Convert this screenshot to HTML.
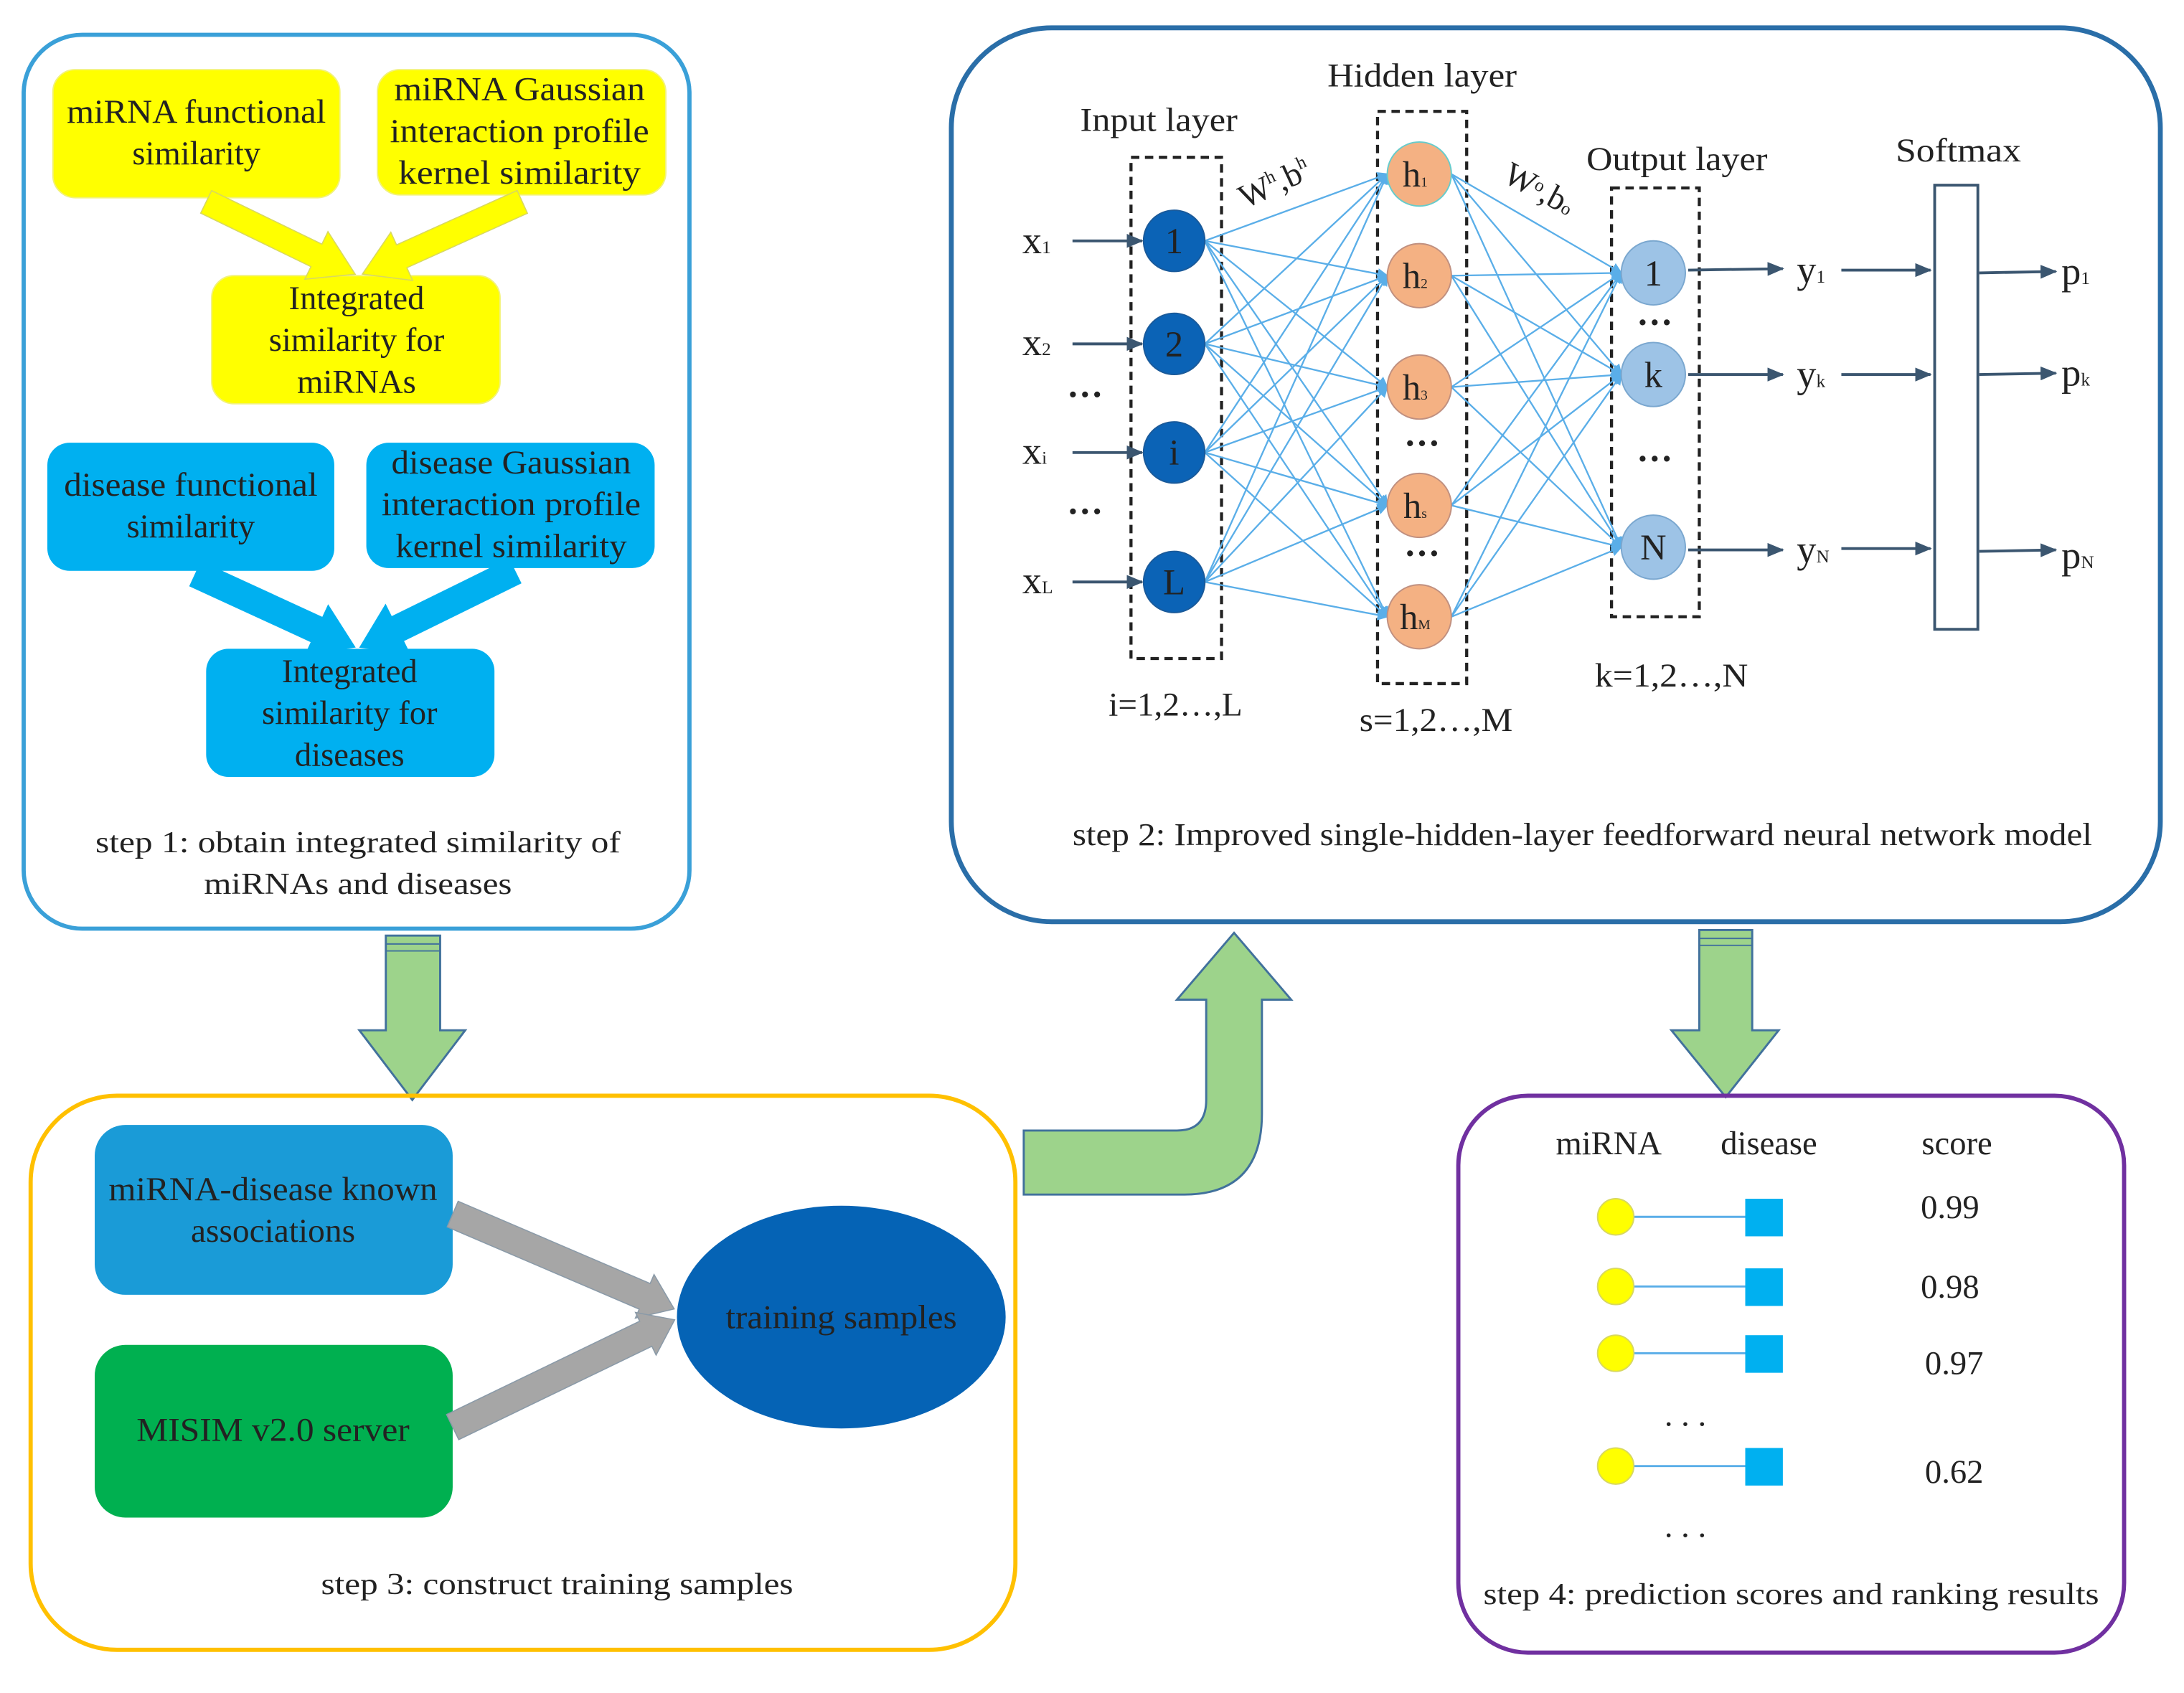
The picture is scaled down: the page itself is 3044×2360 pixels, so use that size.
<!DOCTYPE html>
<html><head><meta charset="utf-8"><style>html,body{margin:0;padding:0;background:#fff}svg{display:block}</style></head>
<body>
<svg width="3044" height="2360" viewBox="0 0 1568 1216" preserveAspectRatio="none" xmlns="http://www.w3.org/2000/svg" font-family="Liberation Serif, serif">
<defs>
<marker id="ab" markerWidth="8" markerHeight="8" refX="7" refY="4" orient="auto" markerUnits="userSpaceOnUse"><path d="M0,0 L8,4 L0,8 z" fill="#5aaee8"/></marker>
<marker id="ad" markerWidth="12" markerHeight="10" refX="11" refY="5" orient="auto" markerUnits="userSpaceOnUse"><path d="M0,0 L12,5 L0,10 z" fill="#3b5670"/></marker>
</defs>
<rect width="1568" height="1216" fill="#fff"/>

<!-- Box 1 -->
<rect x="17" y="25" width="478" height="642" rx="42" fill="#fff" stroke="#3aa0d8" stroke-width="3"/>
<g font-size="24" text-anchor="middle" fill="#222">
<rect x="38" y="50" width="206" height="92" rx="16" fill="#ffff00" stroke="#f2f27a"/>
<text x="141" y="88" textLength="186" lengthAdjust="spacingAndGlyphs">miRNA functional</text><text x="141" y="118">similarity</text>
<rect x="271" y="50" width="207" height="90" rx="16" fill="#ffff00" stroke="#f2f27a"/>
<text x="373" y="72" textLength="180" lengthAdjust="spacingAndGlyphs">miRNA Gaussian</text><text x="373" y="102" textLength="186" lengthAdjust="spacingAndGlyphs">interaction profile</text><text x="373" y="132" textLength="174" lengthAdjust="spacingAndGlyphs">kernel similarity</text>
<rect x="152" y="198" width="207" height="92" rx="16" fill="#ffff00" stroke="#f2f27a"/>
<text x="256" y="222">Integrated</text><text x="256" y="252">similarity for</text><text x="256" y="282">miRNAs</text>
<g fill="#ffff00" stroke="#d8d860" stroke-width="0.8">
<polygon transform="translate(148,145) rotate(25.9)" points="0,-9 88,-9 88,-19 119,0 88,19 88,9 0,9"/>
<polygon transform="translate(375,145) rotate(155.7)" points="0,-9 95,-9 95,-19 126,0 95,19 95,9 0,9"/>
</g>
<rect x="34" y="318" width="206" height="92" rx="16" fill="#00b0f0"/>
<text x="137" y="356" textLength="182" lengthAdjust="spacingAndGlyphs">disease functional</text><text x="137" y="386">similarity</text>
<rect x="263" y="318" width="207" height="90" rx="16" fill="#00b0f0"/>
<text x="367" y="340" textLength="172" lengthAdjust="spacingAndGlyphs">disease Gaussian</text><text x="367" y="370" textLength="186" lengthAdjust="spacingAndGlyphs">interaction profile</text><text x="367" y="400" textLength="166" lengthAdjust="spacingAndGlyphs">kernel similarity</text>
<g fill="#00b0f0">
<polygon transform="translate(140,412) rotate(24.7)" points="0,-10 96,-10 96,-20 127,0 96,20 96,10 0,10"/>
<polygon transform="translate(370,410) rotate(153.8)" points="0,-10 94,-10 94,-20 125,0 94,20 94,10 0,10"/>
</g>
<rect x="148" y="466" width="207" height="92" rx="16" fill="#00b0f0"/>
<text x="251" y="490">Integrated</text><text x="251" y="520">similarity for</text><text x="251" y="550">diseases</text>
<text x="257" y="612" font-size="22" textLength="377" lengthAdjust="spacingAndGlyphs">step 1: obtain integrated similarity of</text>
<text x="257" y="642" font-size="22" textLength="221" lengthAdjust="spacingAndGlyphs">miRNAs and diseases</text>
</g>

<!-- Box 2 -->
<rect x="683" y="20" width="868" height="642" rx="72" fill="#fff" stroke="#2a6ea8" stroke-width="3.5"/>
<g fill="none" stroke="#222" stroke-width="2.2" stroke-dasharray="6,4">
<rect x="812" y="113" width="65" height="360"/>
<rect x="989" y="80" width="64" height="411"/>
<rect x="1157" y="135" width="63" height="308"/>
</g>
<g stroke="#5aaee8" stroke-width="1.2" marker-end="url(#ab)">
<line x1="865" y1="173" x2="996" y2="125"/><line x1="865" y1="173" x2="996" y2="198"/><line x1="865" y1="173" x2="996" y2="278"/><line x1="865" y1="173" x2="996" y2="363"/><line x1="865" y1="173" x2="996" y2="443"/>
<line x1="865" y1="247" x2="996" y2="125"/><line x1="865" y1="247" x2="996" y2="198"/><line x1="865" y1="247" x2="996" y2="278"/><line x1="865" y1="247" x2="996" y2="363"/><line x1="865" y1="247" x2="996" y2="443"/>
<line x1="865" y1="325" x2="996" y2="125"/><line x1="865" y1="325" x2="996" y2="198"/><line x1="865" y1="325" x2="996" y2="278"/><line x1="865" y1="325" x2="996" y2="363"/><line x1="865" y1="325" x2="996" y2="443"/>
<line x1="865" y1="418" x2="996" y2="125"/><line x1="865" y1="418" x2="996" y2="198"/><line x1="865" y1="418" x2="996" y2="278"/><line x1="865" y1="418" x2="996" y2="363"/><line x1="865" y1="418" x2="996" y2="443"/>
<line x1="1042" y1="125" x2="1164" y2="196"/><line x1="1042" y1="125" x2="1164" y2="269"/><line x1="1042" y1="125" x2="1164" y2="393"/>
<line x1="1042" y1="198" x2="1164" y2="196"/><line x1="1042" y1="198" x2="1164" y2="269"/><line x1="1042" y1="198" x2="1164" y2="393"/>
<line x1="1042" y1="278" x2="1164" y2="196"/><line x1="1042" y1="278" x2="1164" y2="269"/><line x1="1042" y1="278" x2="1164" y2="393"/>
<line x1="1042" y1="363" x2="1164" y2="196"/><line x1="1042" y1="363" x2="1164" y2="269"/><line x1="1042" y1="363" x2="1164" y2="393"/>
<line x1="1042" y1="443" x2="1164" y2="196"/><line x1="1042" y1="443" x2="1164" y2="269"/><line x1="1042" y1="443" x2="1164" y2="393"/>
</g>
<g stroke="#3b5670" stroke-width="2" marker-end="url(#ad)">
<line x1="770" y1="173" x2="820" y2="173"/><line x1="770" y1="247" x2="820" y2="247"/><line x1="770" y1="325" x2="820" y2="325"/><line x1="770" y1="418" x2="820" y2="418"/>
<line x1="1212" y1="194" x2="1280" y2="193"/><line x1="1212" y1="269" x2="1280" y2="269"/><line x1="1212" y1="395" x2="1280" y2="395"/>
<line x1="1322" y1="194" x2="1386" y2="194"/><line x1="1322" y1="269" x2="1386" y2="269"/><line x1="1322" y1="394" x2="1386" y2="394"/>
<line x1="1421" y1="196" x2="1476" y2="195"/><line x1="1421" y1="269" x2="1476" y2="268"/><line x1="1421" y1="396" x2="1476" y2="395"/>
</g>
<rect x="1389" y="133" width="31" height="319" fill="#fff" stroke="#3b5670" stroke-width="2"/>
<g fill="#0b63b6" stroke="#1a5a9a">
<circle cx="843" cy="173" r="22"/><circle cx="843" cy="247" r="22"/><circle cx="843" cy="325" r="22"/><circle cx="843" cy="418" r="22"/>
</g>
<g fill="#f4b183" stroke="#c09080">
<circle cx="1019" cy="125" r="23" stroke="#6cc"/><circle cx="1019" cy="198" r="23"/><circle cx="1019" cy="278" r="23"/><circle cx="1019" cy="363" r="23"/><circle cx="1019" cy="443" r="23"/>
</g>
<g fill="#9dc3e6" stroke="#7aa7cf">
<circle cx="1187" cy="196" r="23"/><circle cx="1187" cy="269" r="23"/><circle cx="1187" cy="393" r="23"/>
</g>
<g font-size="26" fill="#222" text-anchor="middle">
<text x="843" y="182">1</text><text x="843" y="256">2</text><text x="843" y="334">i</text><text x="843" y="427">L</text>
<text x="1016" y="134">h<tspan font-size="10">1</tspan></text><text x="1016" y="207">h<tspan font-size="10">2</tspan></text><text x="1016" y="287">h<tspan font-size="10">3</tspan></text><text x="1016" y="372">h<tspan font-size="10">s</tspan></text><text x="1016" y="452">h<tspan font-size="10">M</tspan></text>
<text x="1187" y="205">1</text><text x="1187" y="278">k</text><text x="1187" y="402">N</text>
</g>
<g font-size="24" fill="#222">
<text x="832" y="94" text-anchor="middle" textLength="113" lengthAdjust="spacingAndGlyphs">Input layer</text>
<text x="1021" y="62" text-anchor="middle" textLength="136" lengthAdjust="spacingAndGlyphs">Hidden layer</text>
<text x="1204" y="122" text-anchor="middle" textLength="130" lengthAdjust="spacingAndGlyphs">Output layer</text>
<text x="1406" y="116" text-anchor="middle" textLength="90" lengthAdjust="spacingAndGlyphs">Softmax</text>
<text x="734" y="182" font-size="28">x<tspan font-size="13">1</tspan></text>
<text x="734" y="255" font-size="28">x<tspan font-size="13">2</tspan></text>
<text x="734" y="333" font-size="28">x<tspan font-size="13">i</tspan></text>
<text x="734" y="426" font-size="28">x<tspan font-size="13">L</tspan></text>
<text x="1290" y="203" font-size="28">y<tspan font-size="13">1</tspan></text>
<text x="1290" y="278" font-size="28">y<tspan font-size="13">k</tspan></text>
<text x="1290" y="404" font-size="28">y<tspan font-size="13">N</tspan></text>
<text x="1480" y="204" font-size="28">p<tspan font-size="13">1</tspan></text>
<text x="1480" y="277" font-size="28">p<tspan font-size="13">k</tspan></text>
<text x="1480" y="408" font-size="28">p<tspan font-size="13">N</tspan></text>
<text x="844" y="514" text-anchor="middle" textLength="96" lengthAdjust="spacingAndGlyphs">i=1,2…,L</text>
<text x="1031" y="525" text-anchor="middle" textLength="110" lengthAdjust="spacingAndGlyphs">s=1,2…,M</text>
<text x="1200" y="493" text-anchor="middle" textLength="110" lengthAdjust="spacingAndGlyphs">k=1,2…,N</text>
<text x="894" y="150" transform="rotate(-25 894 150)">W<tspan font-size="13" dy="-9">h</tspan><tspan dy="9">,b</tspan><tspan font-size="13" dy="-9">h</tspan></text>
<text x="1078" y="130" transform="rotate(28 1078 130)">W<tspan font-size="13" dy="-6">o</tspan><tspan dy="6">,b</tspan><tspan font-size="13">o</tspan></text>
<text x="1136" y="607" text-anchor="middle" font-size="23" textLength="732" lengthAdjust="spacingAndGlyphs">step 2: Improved single-hidden-layer feedforward neural network model</text>
</g>
<g font-size="26" font-weight="bold" fill="#222" text-anchor="middle">
<text x="779" y="292">···</text><text x="779" y="376">···</text>
<text x="1021" y="327">···</text><text x="1021" y="406">···</text>
<text x="1188" y="240">···</text><text x="1188" y="338">···</text>
</g>

<!-- green arrows -->
<g fill="#9dd38b" stroke="#41719c" stroke-width="1.5">
<polygon points="277,672 316,672 316,740 334,740 296,790 258,740 277,740"/>
<polygon points="1220,668 1258,668 1258,740 1277,740 1239,788 1200,740 1220,740"/>
<path d="M735,858 L850,858 Q906,858 906,800 L906,718 L927,718 L886,670 L845,718 L866,718 L866,790 Q866,812 845,812 L735,812 Z"/>
</g>
<g stroke="#41719c" stroke-width="1"><line x1="277" y1="678" x2="316" y2="678"/><line x1="277" y1="683" x2="316" y2="683"/><line x1="1220" y1="674" x2="1258" y2="674"/><line x1="1220" y1="679" x2="1258" y2="679"/></g>

<!-- Box 3 -->
<rect x="22" y="787" width="707" height="398" rx="62" fill="none" stroke="#ffc000" stroke-width="3"/>
<rect x="68" y="808" width="257" height="122" rx="22" fill="#1a9bd7"/>
<rect x="68" y="966" width="257" height="124" rx="22" fill="#00b050"/>
<ellipse cx="604" cy="946" rx="118" ry="80" fill="#0563b5"/>
<g fill="#a6a6a6" stroke="#8a9aa8" stroke-width="0.8">
<polygon transform="translate(325,872) rotate(23.2)" points="0,-10 150,-10 150,-17 173,0 150,17 150,10 0,10"/>
<polygon transform="translate(325,1025) rotate(-25.8)" points="0,-10 154,-10 154,-17 177,0 154,17 154,10 0,10"/>
</g>
<g font-size="24" fill="#222" text-anchor="middle">
<text x="196" y="862" textLength="236" lengthAdjust="spacingAndGlyphs">miRNA-disease known</text><text x="196" y="892" textLength="118" lengthAdjust="spacingAndGlyphs">associations</text>
<text x="196" y="1035" textLength="196" lengthAdjust="spacingAndGlyphs">MISIM v2.0 server</text>
<text x="604" y="954" textLength="166" lengthAdjust="spacingAndGlyphs">training samples</text>
<text x="400" y="1145" font-size="22" textLength="339" lengthAdjust="spacingAndGlyphs">step 3: construct training samples</text>
</g>

<!-- Box 4 -->
<rect x="1047" y="787" width="478" height="400" rx="50" fill="none" stroke="#7030a0" stroke-width="3"/>
<g stroke="#5aaee8" stroke-width="1.5"><line x1="1160" y1="874" x2="1256" y2="874"/><line x1="1160" y1="924" x2="1256" y2="924"/><line x1="1160" y1="972" x2="1256" y2="972"/><line x1="1160" y1="1053" x2="1256" y2="1053"/></g>
<g fill="#ffff00" stroke="#d8d860"><circle cx="1160" cy="874" r="13"/><circle cx="1160" cy="924" r="13"/><circle cx="1160" cy="972" r="13"/><circle cx="1160" cy="1053" r="13"/></g>
<g fill="#00b0f0"><rect x="1253" y="861" width="27" height="27"/><rect x="1253" y="911" width="27" height="27"/><rect x="1253" y="959" width="27" height="27"/><rect x="1253" y="1040" width="27" height="27"/></g>
<g font-size="24" fill="#222" text-anchor="middle">
<text x="1155" y="829">miRNA</text><text x="1270" y="829">disease</text><text x="1405" y="829">score</text>
<text x="1400" y="875">0.99</text><text x="1400" y="932">0.98</text><text x="1403" y="987">0.97</text><text x="1403" y="1065">0.62</text>
<text x="1210" y="1024">. . .</text><text x="1210" y="1104">. . .</text>
<text x="1286" y="1152" font-size="22" textLength="442" lengthAdjust="spacingAndGlyphs">step 4: prediction scores and ranking results</text>
</g>
</svg>
</body></html>
